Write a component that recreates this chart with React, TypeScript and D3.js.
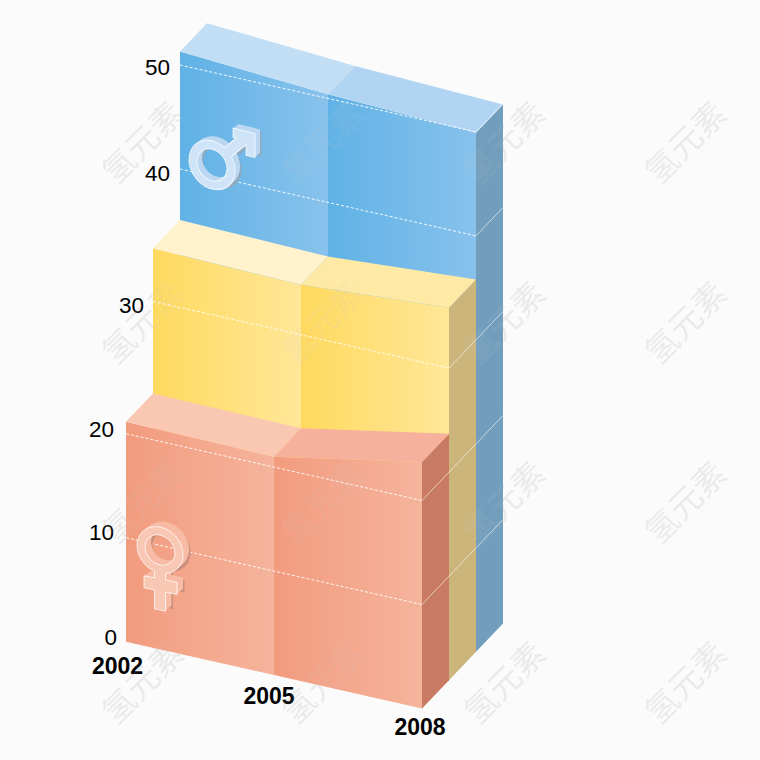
import React from "react";
import * as d3 from "d3";

const years = [2002, 2005, 2008];
const femaleTop = [21.15, 21.0, 23.7];
const middleTop = [35.1, 34.8, 35.8];
const maleTop = [51.3, 50.4, 49.9];
const depthLevels = [0, 1, 2, 3];
const gridOnLayer = [
  { value: 10, layer: 0 },
  { value: 20, layer: 0 },
  { value: 30, layer: 1 },
  { value: 40, layer: 2 },
  { value: 50, layer: 2 },
];
const tickLabels = [
  { value: 0, layer: 0, dx: -9, dy: -4 },
  { value: 10, layer: 0, dx: -12, dy: -5.5 },
  { value: 20, layer: 0, dx: -12, dy: -4 },
  { value: 30, layer: 1, dx: -9, dy: 4 },
  { value: 40, layer: 2, dx: -10, dy: 4 },
  { value: 50, layer: 2, dx: -10, dy: 2 },
];
const yearLabelOffsets = [
  { dx: -8.5, dy: 24 },
  { dx: -5, dy: 21 },
  { dx: -2, dy: 18.5 },
];
const watermarkCols = [141, 321, 503, 684];
const watermarkRows = [141, 321, 501, 681];

const palette = [
  {
    top: ["#F9C7B2", "#F5B19B"],
    front: ["#F29B7E", "#F5B49C"],
    side: "#C87A62",
    key: "red",
  },
  {
    top: ["#FFF2CD", "#FEE9A5"],
    front: ["#FFD95F", "#FFE798"],
    side: "#CBB57B",
    key: "yellow",
  },
  {
    top: ["#C2DEF5", "#B0D4F1"],
    front: ["#60B2E6", "#88C2EC"],
    side: "#719EBC",
    key: "blue",
  },
];
const layerTops = [femaleTop, middleTop, maleTop];

const xScale = d3.scaleLinear().domain([2002, 2008]).range([126, 422]);
const baseScale = d3.scaleLinear().domain([2002, 2008]).range([641.7, 708.5]);
const valueScale = d3.scaleLinear().domain([0, 50]).range([0, 520]);
const depthX = d3.scaleLinear().domain([0, 3]).range([0, 81]);
const depthY = d3.scaleLinear().domain([0, 3]).range([0, -85]);

const project = (year: number, depth: number, value: number): [number, number] => [
  xScale(year) + depthX(depth),
  baseScale(year) + depthY(depth) - valueScale(value),
];
const poly = d3.line<[number, number]>().curve(d3.curveLinearClosed);
const seg = d3.line<[number, number]>();

// icon helpers (flat shape in the front plane)
function malePath() {
  const R = 23;
  const r = 15;
  const hw = 5;
  const a = Math.asin(hw / R);
  const base = -Math.PI / 4;
  const p = (ang: number, rad: number) => `${rad * Math.cos(ang)} ${rad * Math.sin(ang)}`;
  return (
    `M${p(base - a, R)} A${R} ${R} 0 1 0 ${p(base + a, R)} ` +
    `L34 -27 L34 -17 L43 -17 L43 -40 L21 -40 L21 -31 L24 -31 Z ` +
    `M${r} 0 A${r} ${r} 0 1 0 ${-r} 0 A${r} ${r} 0 1 0 ${r} 0 Z`
  );
}
function femalePath() {
  const R = 23;
  const r = 15;
  const hw = 5.5;
  const a = Math.asin(hw / R);
  const p = (ang: number, rad: number) => `${rad * Math.cos(ang)} ${rad * Math.sin(ang)}`;
  return (
    `M${p(Math.PI / 2 - a, R)} A${R} ${R} 0 1 0 ${p(Math.PI / 2 + a, R)} ` +
    `L${-hw} 29 L-16 29 L-16 41 L${-hw} 41 L${-hw} 60 L${hw} 60 L${hw} 41 L17 41 L17 29 L${hw} 29 Z ` +
    `M${r} 0 A${r} ${r} 0 1 0 ${-r} 0 A${r} ${r} 0 1 0 ${r} 0 Z`
  );
}

function Icon({ d, matrix, face, back, shade, offset }: any) {
  const steps = d3.range(offset[2], 0, -1);
  return (
    <g>
      <path
        d={d}
        fillRule="evenodd"
        fill={shade}
        transform={`translate(${offset[0] + 1.5} ${offset[1] + 3}) ${matrix}`}
      />
      {steps.map((s: number) => (
        <path
          key={s}
          d={d}
          fillRule="evenodd"
          fill={back}
          transform={`translate(${(offset[0] * s) / offset[2]} ${(offset[1] * s) / offset[2]}) ${matrix}`}
        />
      ))}
      <path d={d} fillRule="evenodd" fill={face} stroke="#fff" strokeOpacity={0.8} strokeWidth={0.9} transform={matrix} />
    </g>
  );
}

function Watermarks({ fill, opacity, stroke }: { fill: string; opacity: number; stroke: number }) {
  return (
    <g>
      {watermarkRows.map((wy) =>
        watermarkCols.map((wx) => (
          <text
            key={`${wx}-${wy}`}
            x={wx}
            y={wy}
            transform={`rotate(-45 ${wx} ${wy})`}
            textAnchor="middle"
            dominantBaseline="central"
            fontFamily="'Noto Sans CJK SC'"
            fontSize={33}
            fill={fill}
            fillOpacity={opacity}
            stroke="#fff"
            strokeOpacity={stroke}
            strokeWidth={2}
          >
            氢元素
          </text>
        ))
      )}
    </g>
  );
}

export default function App() {
  const layerEls = [2, 1, 0].map((layer) => {
    const pal = palette[layer];
    const tops = layerTops[layer];
    return (
      <g key={pal.key}>
        <path
          d={
            poly([
              project(2008, layer, tops[2]),
              project(2008, layer + 1, tops[2]),
              project(2008, layer + 1, 0),
              project(2008, layer, 0),
            ])!
          }
          fill={pal.side}
        />
        {[0, 1].map((i) => (
          <g key={i}>
            <path
              d={
                poly([
                  project(years[i], layer, tops[i]),
                  project(years[i + 1], layer, tops[i + 1]),
                  project(years[i + 1], layer, 0),
                  project(years[i], layer, 0),
                ])!
              }
              fill={`url(#front-${pal.key})`}
            />
            <path
              d={
                poly([
                  project(years[i], layer, tops[i]),
                  project(years[i + 1], layer, tops[i + 1]),
                  project(years[i + 1], layer + 1, tops[i + 1]),
                  project(years[i], layer + 1, tops[i]),
                ])!
              }
              fill={pal.top[i]}
            />
          </g>
        ))}
      </g>
    );
  });

  return (
    <svg
      width={760}
      height={760}
      viewBox="0 0 760 760"
      style={{ position: "absolute", left: 0, top: 0, display: "block" }}
      fontFamily="'Liberation Sans', Arial, sans-serif"
    >
      <defs>
        {palette.map((p) => (
          <linearGradient key={p.key} id={`front-${p.key}`} x1="0" x2="1" y1="0" y2="0">
            <stop offset="0" stopColor={p.front[0]} />
            <stop offset="1" stopColor={p.front[1]} />
          </linearGradient>
        ))}
      </defs>
      <rect width={760} height={760} fill="#FBFBFB" />
      <Watermarks fill="#999" opacity={0.13} stroke={0.1} />
      {layerEls}

      {gridOnLayer.map((g) => (
        <g key={g.value} fill="none" stroke="#fff" strokeOpacity={0.9}>
          <path
            d={seg([project(2002, g.layer, g.value), project(2008, g.layer, g.value)])!}
            strokeWidth={1}
            strokeDasharray="3 2"
          />
          <path
            d={seg([project(2008, g.layer, g.value), project(2008, depthLevels[3], g.value)])!}
            strokeWidth={0.8}
            strokeOpacity={0.75}
          />
        </g>
      ))}

      <Icon
        d={malePath()}
        matrix="translate(212 165) matrix(1 0.24 0 1.05 0 0)"
        face="#CFE4F7"
        back="#BBD8F2"
        shade="#8FA9BE"
        offset={[5, -4, 6]}
      />
      <Icon
        d={femalePath()}
        matrix="translate(160 550) matrix(1 0.2 0 1 0 0)"
        face="#F9C8B4"
        back="#F8BCA6"
        shade="#C98F7C"
        offset={[6, -5, 6]}
      />

      {tickLabels.map((t) => {
        const [x, y] = project(2002, t.layer, t.value);
        return (
          <text key={t.value} x={x + t.dx} y={y + t.dy} textAnchor="end" dominantBaseline="central" fontSize={22.5} fill="#000">
            {t.value}
          </text>
        );
      })}

      {years.map((yr, i) => {
        const [x, y] = project(yr, 0, 0);
        return (
          <text
            key={yr}
            x={x + yearLabelOffsets[i].dx}
            y={y + yearLabelOffsets[i].dy}
            textAnchor="middle"
            dominantBaseline="central"
            fontSize={23}
            fontWeight="bold"
            fill="#000"
          >
            {yr}
          </text>
        );
      })}

      <Watermarks fill="#bbb" opacity={0.1} stroke={0.04} />
    </svg>
  );
}
